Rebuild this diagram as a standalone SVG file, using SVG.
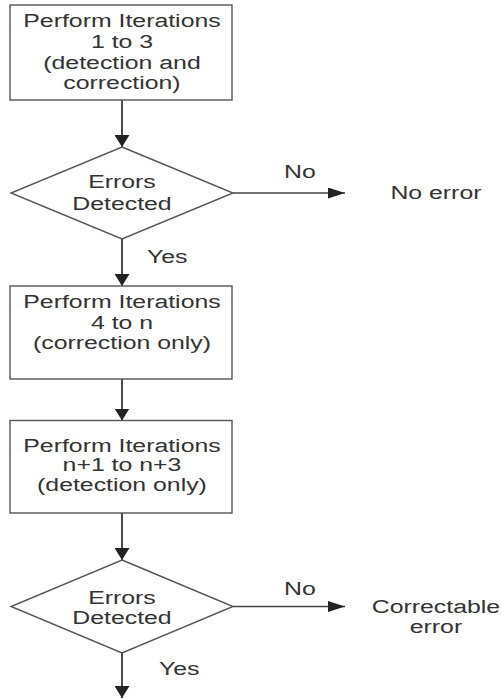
<svg xmlns="http://www.w3.org/2000/svg" width="502" height="700" viewBox="0 0 502 700">
<style>
.t{font-family:"Liberation Sans",Arial,sans-serif;font-size:18px;fill:#333;text-anchor:middle}
.s{text-anchor:start}
.box{fill:#fff;stroke:#555;stroke-width:1.4}
.c{fill:none;stroke:#444}
.v{stroke-width:1.9}
.h{stroke-width:1.3}
</style>
<defs>
<marker id="av" viewBox="0 0 12 15" refX="12" refY="7.5" markerWidth="12" markerHeight="15" markerUnits="userSpaceOnUse" orient="auto">
<path d="M0,0 L12,7.5 L0,15 z" fill="#222"/>
</marker>
<marker id="ah" viewBox="0 0 17 11" refX="17" refY="5.5" markerWidth="17" markerHeight="11" markerUnits="userSpaceOnUse" orient="auto">
<path d="M0,0 L17,5.5 L0,11 z" fill="#222"/>
</marker>
</defs>
<g id="connectors">
<line class="c v" x1="122" y1="100" x2="122" y2="147" marker-end="url(#av)"/>
<line class="c v" x1="122" y1="239" x2="122" y2="286" marker-end="url(#av)"/>
<line class="c v" x1="122" y1="379" x2="122" y2="420.5" marker-end="url(#av)"/>
<line class="c v" x1="122" y1="513" x2="122" y2="560" marker-end="url(#av)"/>
<line class="c v" x1="122" y1="653" x2="122" y2="698" marker-end="url(#av)"/>
<line class="c h" x1="233" y1="193" x2="345" y2="193" marker-end="url(#ah)"/>
<line class="c h" x1="233" y1="606.5" x2="345" y2="606.5" marker-end="url(#ah)"/>
<text class="t" transform="scale(1.38,1)" x="217.4" y="178">No</text>
<text class="t s" transform="scale(1.38,1)" x="106.5" y="263">Yes</text>
<text class="t" transform="scale(1.38,1)" x="217.4" y="595">No</text>
<text class="t s" transform="scale(1.38,1)" x="115.2" y="675">Yes</text>
</g>
<g id="box1">
<rect class="box" x="10" y="5" width="222" height="95"/>
<text class="t" transform="scale(1.38,1)" x="88.4" y="27">Perform Iterations</text>
<text class="t" transform="scale(1.38,1)" x="88.4" y="48.5">1 to 3</text>
<text class="t" transform="scale(1.38,1)" x="88.4" y="69">(detection and</text>
<text class="t" transform="scale(1.38,1)" x="88.4" y="89">correction)</text>
</g>
<g id="decision1">
<polygon class="box" points="122,147 233,193 122,239 11,193"/>
<text class="t" transform="scale(1.38,1)" x="88.4" y="188">Errors</text>
<text class="t" transform="scale(1.38,1)" x="88.4" y="210">Detected</text>
</g>
<g id="noerror">
<text class="t" transform="scale(1.38,1)" x="315.9" y="199">No error</text>
</g>
<g id="box2">
<rect class="box" x="10" y="286" width="222" height="93"/>
<text class="t" transform="scale(1.38,1)" x="88.4" y="308">Perform Iterations</text>
<text class="t" transform="scale(1.38,1)" x="88.4" y="329">4 to n</text>
<text class="t" transform="scale(1.38,1)" x="88.4" y="349">(correction only)</text>
</g>
<g id="box3">
<rect class="box" x="10" y="420.5" width="222" height="92.5"/>
<text class="t" transform="scale(1.38,1)" x="88.4" y="452">Perform Iterations</text>
<text class="t" transform="scale(1.38,1)" x="88.4" y="471.5">n+1 to n+3</text>
<text class="t" transform="scale(1.38,1)" x="88.4" y="491">(detection only)</text>
</g>
<g id="decision2">
<polygon class="box" points="122,560 233,606.5 122,653 11,606.5"/>
<text class="t" transform="scale(1.38,1)" x="88.4" y="604">Errors</text>
<text class="t" transform="scale(1.38,1)" x="88.4" y="624">Detected</text>
</g>
<g id="correctable">
<text class="t" transform="scale(1.38,1)" x="315.9" y="613">Correctable</text>
<text class="t" transform="scale(1.38,1)" x="315.9" y="633">error</text>
</g>
</svg>
